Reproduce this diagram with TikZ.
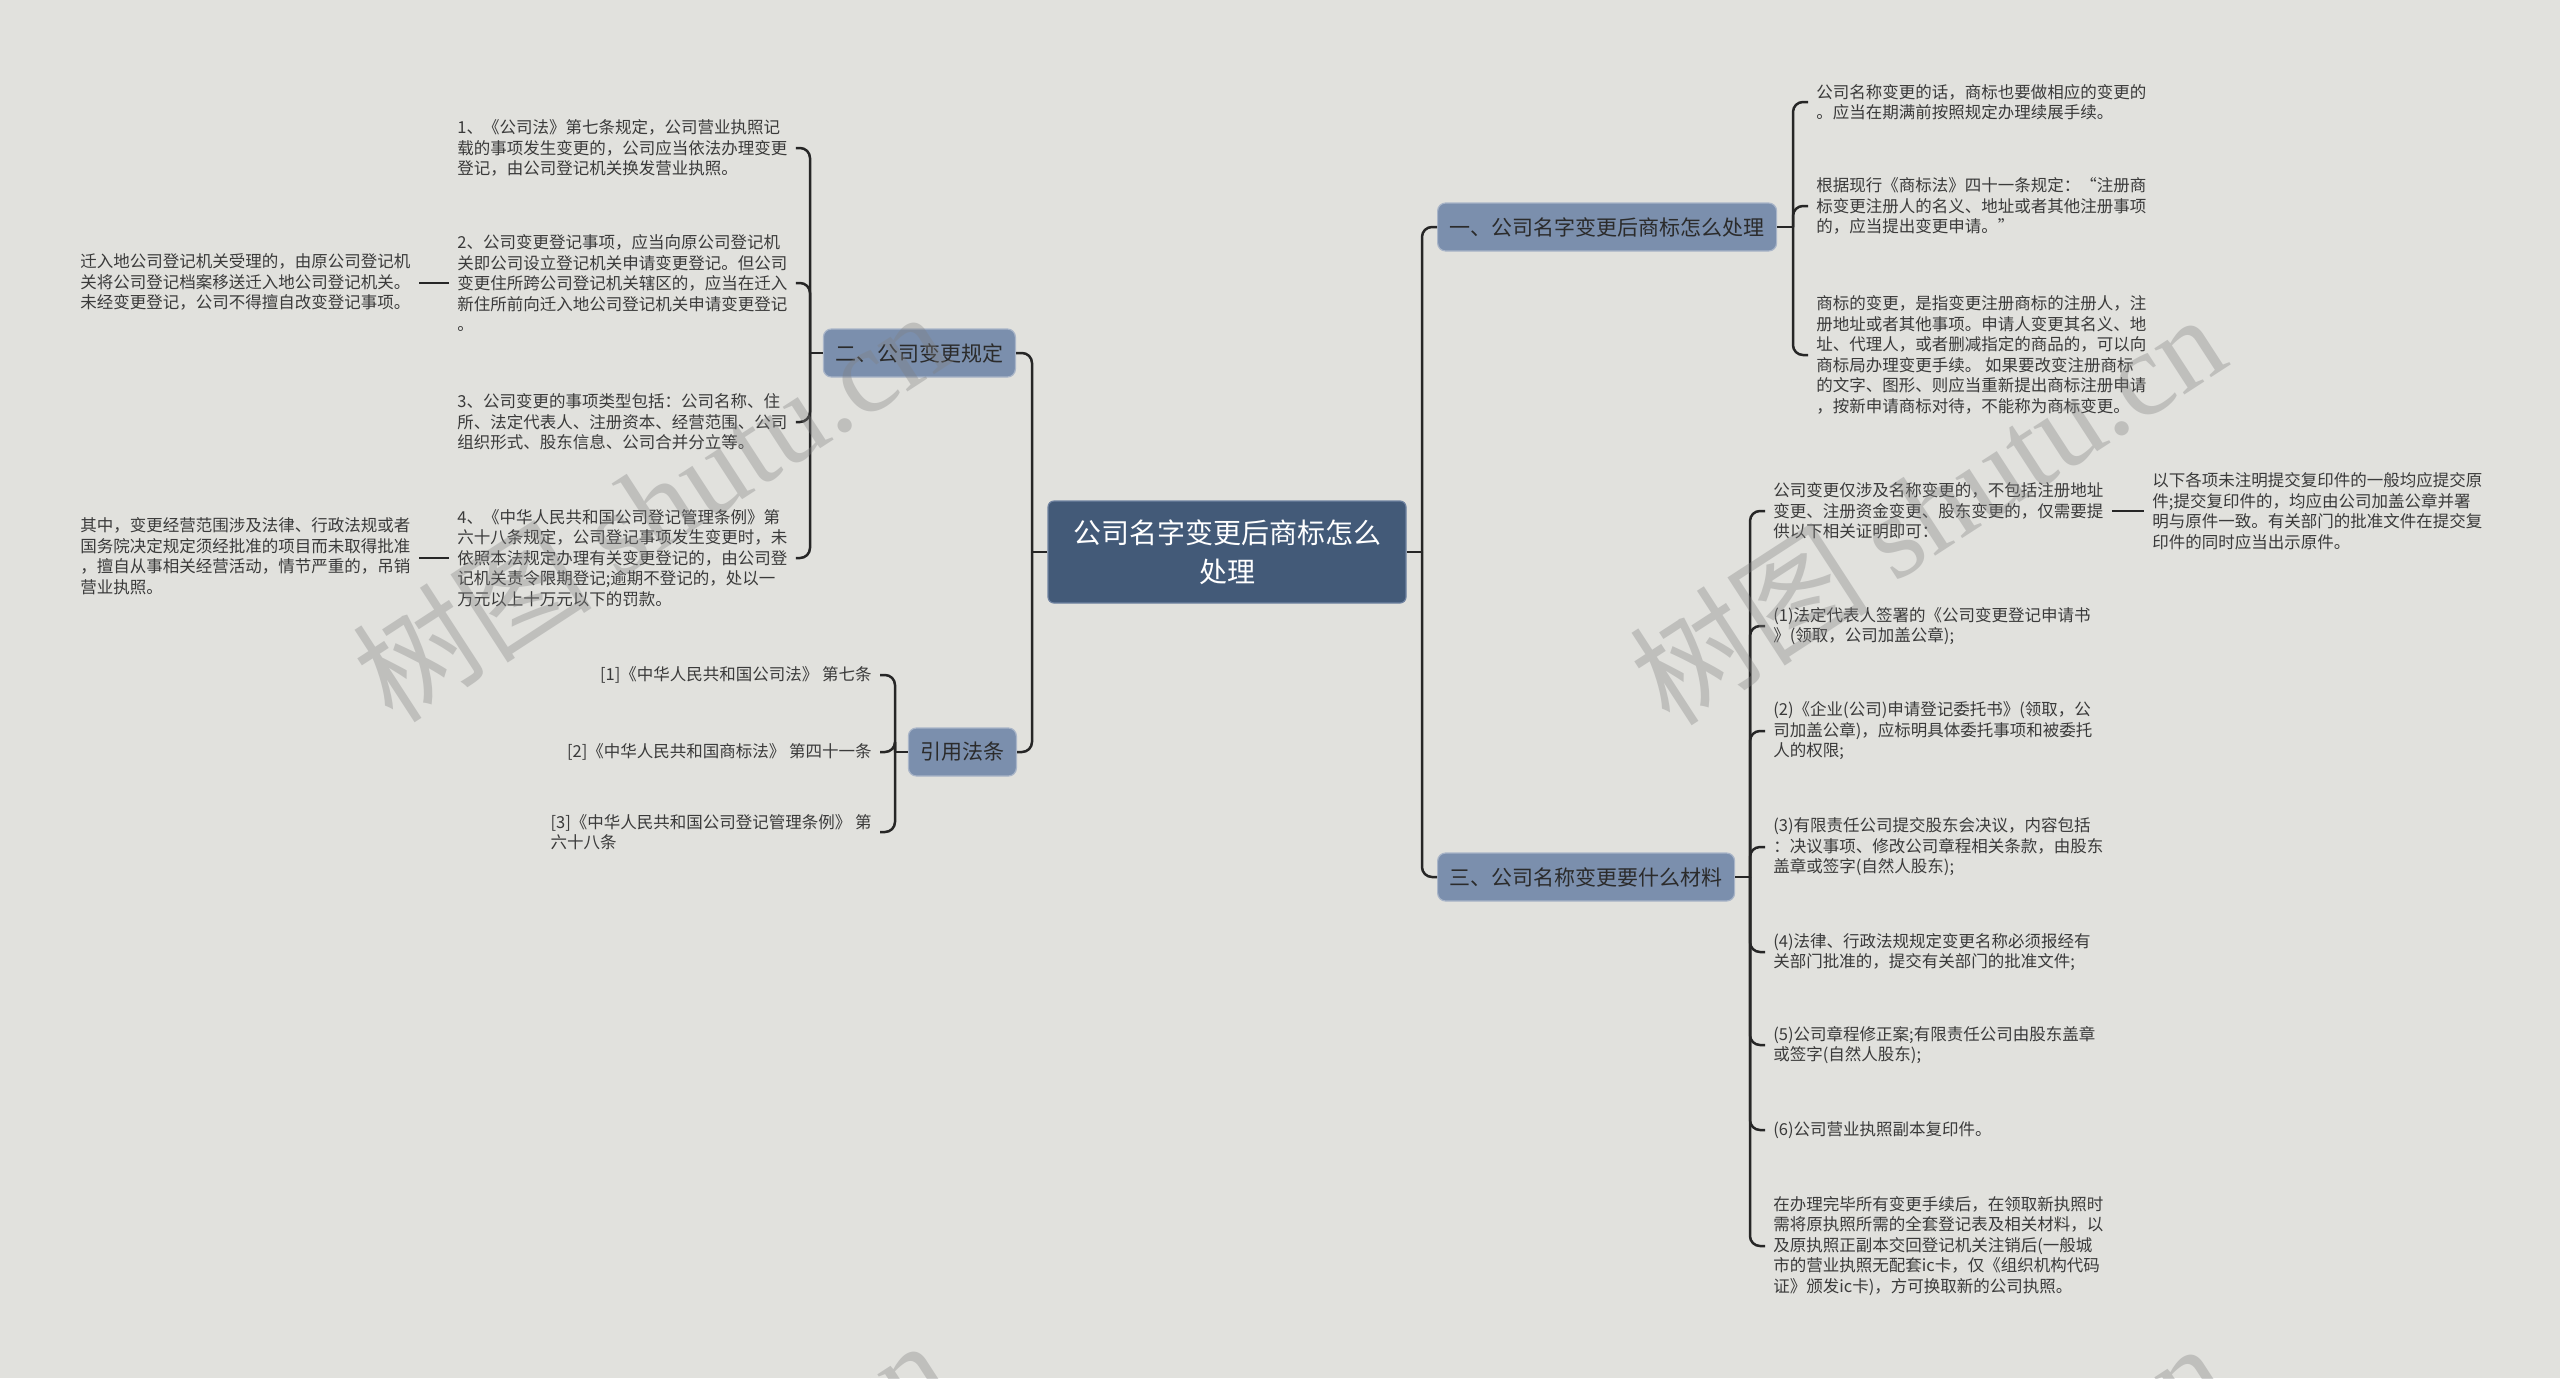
\documentclass[tikz,border=0pt]{standalone}
\usepackage{fontspec}
\setmainfont{Noto Sans CJK SC}
\newfontfamily\wmfont{Liberation Serif}
\definecolor{bgc}{HTML}{E1E1DD}
\definecolor{rootc}{HTML}{435A78}
\definecolor{rootb}{HTML}{6F82A0}
\definecolor{midc}{HTML}{7B8FAD}
\definecolor{midb}{HTML}{A9B5C8}
\definecolor{lvtxt}{HTML}{2B2B2B}
\definecolor{txtc}{HTML}{3A3A3A}
\definecolor{linec}{HTML}{262626}
\definecolor{wmc}{HTML}{808080}
\begin{document}
\begin{tikzpicture}[x=0.5pt,y=-0.5pt,
  leaf/.style={inner xsep=4pt, inner ysep=1pt, align=left, text=txtc, font=\fontsize{8.25}{10.25}\selectfont},
  lvone/.style={fill=midc, draw=midb, line width=0.6pt, rounded corners=4pt, text=lvtxt, font=\fontsize{10.5}{13}\selectfont, inner xsep=6pt, minimum height=24pt},
  rootbox/.style={fill=rootc, draw=rootb, line width=0.6pt, rounded corners=3pt, text=white, font=\fontsize{14}{19.5}\selectfont, align=center, minimum width=179pt, minimum height=51pt},
  conn/.style={draw=linec, line width=1.25pt, rounded corners=5pt},
  wm/.style={text=wmc, text opacity=0.35, font=\fontsize{60}{66}\selectfont, rotate=33}]
\useasboundingbox (0,0) rectangle (2560,1378);
\fill[bgc] (0,0) rectangle (2560,1378);

% root
\node[rootbox] (root) at (1227,552) {公司名字变更后商标怎么\\处理};

% level one
\node[lvone, anchor=east] (L2) at (1016,353) {二、公司变更规定};
\node[lvone, anchor=east] (L4) at (1017,752) {引用法条};
\node[lvone, anchor=west] (R1) at (1437,227) {一、公司名字变更后商标怎么处理};
\node[lvone, anchor=west] (R3) at (1437,877) {三、公司名称变更要什么材料};

% bus coordinates
\coordinate (bL) at (1032,0);
\coordinate (bR) at (1422,0);
\coordinate (bL2) at (810,0);
\coordinate (bL4) at (895,0);
\coordinate (bR1) at (1793,0);
\coordinate (bR3) at (1750,0);

% group 二
\node[leaf, anchor=west] (t1) at (449,148) {1、《公司法》第七条规定，公司营业执照记\\载的事项发生变更的，公司应当依法办理变更\\登记，由公司登记机关换发营业执照。};
\node[leaf, anchor=west] (t2) at (449,283) {2、公司变更登记事项，应当向原公司登记机\\关即公司设立登记机关申请变更登记。但公司\\变更住所跨公司登记机关辖区的，应当在迁入\\新住所前向迁入地公司登记机关申请变更登记\\。};
\node[leaf, anchor=west] (t3) at (449,422) {3、公司变更的事项类型包括：公司名称、住\\所、法定代表人、注册资本、经营范围、公司\\组织形式、股东信息、公司合并分立等。};
\node[leaf, anchor=west] (t4) at (449,558) {4、《中华人民共和国公司登记管理条例》第\\六十八条规定，公司登记事项发生变更时，未\\依照本法规定办理有关变更登记的，由公司登\\记机关责令限期登记;逾期不登记的，处以一\\万元以上十万元以下的罚款。};
\node[leaf, anchor=west] (g1) at (72,282) {迁入地公司登记机关受理的，由原公司登记机\\关将公司登记档案移送迁入地公司登记机关。\\未经变更登记，公司不得擅自改变登记事项。};
\node[leaf, anchor=west] (g2) at (72,556) {其中，变更经营范围涉及法律、行政法规或者\\国务院决定规定须经批准的项目而未取得批准\\，擅自从事相关经营活动，情节严重的，吊销\\营业执照。};

% group 引用法条
\node[leaf, anchor=east] (r1) at (880,675) {[1]《中华人民共和国公司法》 第七条};
\node[leaf, anchor=east] (r2) at (880,752) {[2]《中华人民共和国商标法》 第四十一条};
\node[leaf, anchor=east] (r3) at (880,832) {[3]《中华人民共和国公司登记管理条例》 第\\六十八条};

% group 一
\node[leaf, anchor=west] (a1) at (1808,102) {公司名称变更的话，商标也要做相应的变更的\\。应当在期满前按照规定办理续展手续。};
\node[leaf, anchor=west] (a2) at (1808,206) {根据现行《商标法》四十一条规定：“注册商\\标变更注册人的名义、地址或者其他注册事项\\的，应当提出变更申请。”};
\node[leaf, anchor=west] (a3) at (1808,355) {商标的变更，是指变更注册商标的注册人，注\\册地址或者其他事项。申请人变更其名义、地\\址、代理人，或者删减指定的商品的，可以向\\商标局办理变更手续。 如果要改变注册商标\\的文字、图形、则应当重新提出商标注册申请\\，按新申请商标对待，不能称为商标变更。};

% group 三
\node[leaf, anchor=west] (c1) at (1765,511) {公司变更仅涉及名称变更的，不包括注册地址\\变更、注册资金变更、股东变更的，仅需要提\\供以下相关证明即可：};
\node[leaf, anchor=west] (cc) at (2144,511) {以下各项未注明提交复印件的一般均应提交原\\件;提交复印件的，均应由公司加盖公章并署\\明与原件一致。有关部门的批准文件在提交复\\印件的同时应当出示原件。};
\node[leaf, anchor=west] (c2) at (1765,626) {(1)法定代表人签署的《公司变更登记申请书\\》(领取，公司加盖公章);};
\node[leaf, anchor=west] (c3) at (1765,731) {(2)《企业(公司)申请登记委托书》(领取，公\\司加盖公章)，应标明具体委托事项和被委托\\人的权限;};
\node[leaf, anchor=west] (c4) at (1765,847) {(3)有限责任公司提交股东会决议，内容包括\\：决议事项、修改公司章程相关条款，由股东\\盖章或签字(自然人股东);};
\node[leaf, anchor=west] (c5) at (1765,952) {(4)法律、行政法规规定变更名称必须报经有\\关部门批准的，提交有关部门的批准文件;};
\node[leaf, anchor=west] (c6) at (1765,1045) {(5)公司章程修正案;有限责任公司由股东盖章\\或签字(自然人股东);};
\node[leaf, anchor=west] (c7) at (1765,1130) {(6)公司营业执照副本复印件。};
\node[leaf, anchor=west] (c8) at (1765,1246) {在办理完毕所有变更手续后，在领取新执照时\\需将原执照所需的全套登记表及相关材料，以\\及原执照正副本交回登记机关注销后(一般城\\市的营业执照无配套ic卡，仅《组织机构代码\\证》颁发ic卡)，方可换取新的公司执照。};

% connectors root
\draw[conn] (root.west) -- (root.west -| bL);
\draw[conn] (root.west -| bL) |- (L2.east);
\draw[conn] (root.west -| bL) |- (L4.east);
\draw[conn] (root.east) -- (root.east -| bR);
\draw[conn] (root.east -| bR) |- (R1.west);
\draw[conn] (root.east -| bR) |- (R3.west);

% connectors 二
\draw[conn] (L2.west) -- (L2.west -| bL2);
\foreach \c in {t1,t2,t3,t4} \draw[conn] (L2.west -| bL2) |- (\c.east);
\draw[conn] (t2.west) -- (t2.west -| g1.east);
\draw[conn] (t4.west) -- (t4.west -| g2.east);

% connectors 引用法条
\draw[conn] (L4.west) -- (L4.west -| bL4);
\foreach \c in {r1,r2,r3} \draw[conn] (L4.west -| bL4) |- (\c.east);

% connectors 一
\draw[conn] (R1.east) -- (R1.east -| bR1);
\foreach \c in {a1,a2,a3} \draw[conn] (R1.east -| bR1) |- (\c.west);

% connectors 三
\draw[conn] (R3.east) -- (R3.east -| bR3);
\foreach \c in {c1,c2,c3,c4,c5,c6,c7,c8} \draw[conn] (R3.east -| bR3) |- (\c.west);
\draw[conn] (c1.east) -- (c1.east -| cc.west);

% watermarks
\begin{scope}
\clip (0,0) rectangle (2560,1378);
\node[wm] (wm1) at (650,505) {树图 {\wmfont shutu.cn}};
\node[wm] (wm2) at (1927,508) {树图 {\wmfont shutu.cn}};
\node[wm] (wm3) at (650,1534) {树图 {\wmfont shutu.cn}};
\node[wm] (wm4) at (1927,1537) {树图 {\wmfont shutu.cn}};
\end{scope}
\end{tikzpicture}
\end{document}
